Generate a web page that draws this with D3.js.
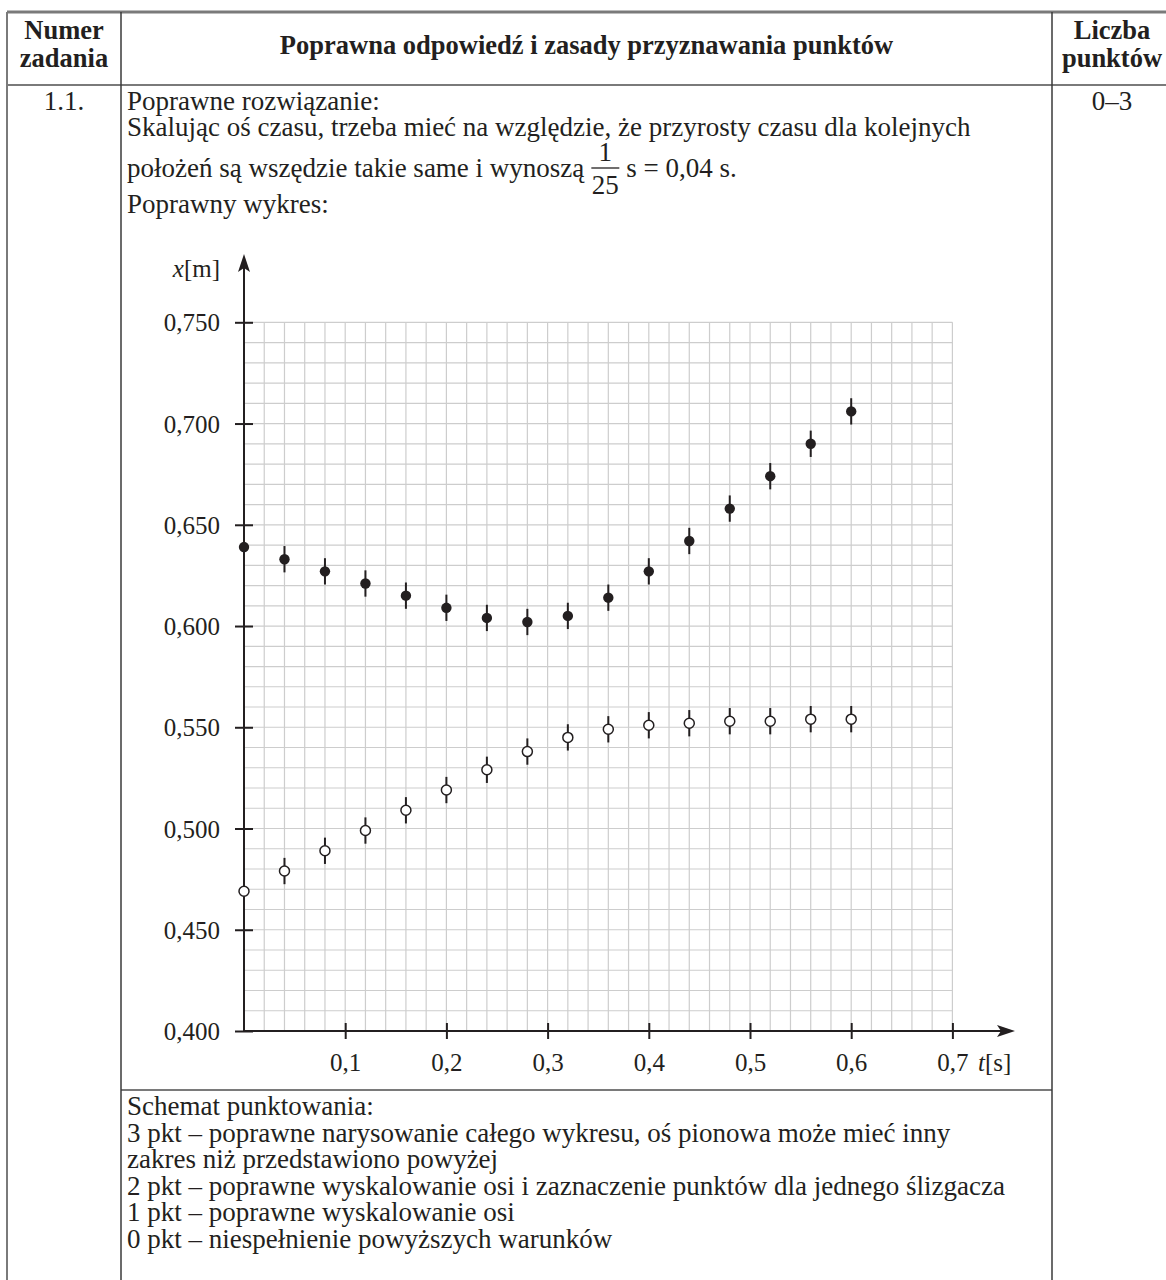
<!DOCTYPE html>
<html><head><meta charset="utf-8">
<script src="https://cdn.jsdelivr.net/npm/d3@7"></script>
<style>
body{margin:0;background:#fff}
svg{display:block}
text{font-family:"Liberation Serif","Times New Roman",serif;fill:#231f20}
</style>
</head><body>
<svg id="c" width="1166" height="1280"></svg>
<script>
// ---- data ----
const times = [0, 0.04, 0.08, 0.12, 0.16, 0.20, 0.24, 0.28, 0.32, 0.36, 0.40, 0.44, 0.48, 0.52, 0.56, 0.60];
const sliderFilled = [0.639, 0.633, 0.627, 0.621, 0.615, 0.609, 0.604, 0.602, 0.605, 0.614, 0.627, 0.642, 0.658, 0.674, 0.690, 0.706];
const sliderOpen = [0.469, 0.479, 0.489, 0.499, 0.509, 0.519, 0.529, 0.538, 0.545, 0.549, 0.551, 0.552, 0.553, 0.553, 0.554, 0.554];
const uncertainty = 0.0065;
const xTicks = [0.1, 0.2, 0.3, 0.4, 0.5, 0.6, 0.7];
const xTickLabels = ["0,1", "0,2", "0,3", "0,4", "0,5", "0,6", "0,7"];
const yTicks = [0.400, 0.450, 0.500, 0.550, 0.600, 0.650, 0.700, 0.750];
const yTickLabels = ["0,400", "0,450", "0,500", "0,550", "0,600", "0,650", "0,700", "0,750"];
const headerCol1 = ["Numer", "zadania"];
const headerCol2 = "Poprawna odpowiedź i zasady przyznawania punktów";
const headerCol3 = ["Liczba", "punktów"];
const taskNo = "1.1.";
const points = "0–3";
const introLines = ["Poprawne rozwiązanie:", "Skalując oś czasu, trzeba mieć na względzie, że przyrosty czasu dla kolejnych"];
const fracLineStart = "położeń są wszędzie takie same i wynoszą";
const fracNum = "1", fracDen = "25";
const fracLineEnd = "s = 0,04 s.";
const chartTitle = "Poprawny wykres:";
const schemeLines = [
  "Schemat punktowania:",
  "3 pkt – poprawne narysowanie całego wykresu, oś pionowa może mieć inny",
  "zakres niż przedstawiono powyżej",
  "2 pkt – poprawne wyskalowanie osi i zaznaczenie punktów dla jednego ślizgacza",
  "1 pkt – poprawne wyskalowanie osi",
  "0 pkt – niespełnienie powyższych warunków"
];

// ---- layout ----
const svg = d3.select("#c");
const INK = "#231f20";
const T = {left: 7, c1: 121, c2: 1052, right: 1172, top: 12, head: 85, sep: 1090, bottom: 1280};
const bodyFont = 27, headFont = 26.5, tickFont = 25;

// table lines
const tl = svg.append("g").attr("stroke", "#7a7a7a").attr("stroke-width", 2);
tl.append("line").attr("x1", T.left).attr("x2", 1166).attr("y1", T.top).attr("y2", T.top).attr("stroke-width", 3);
tl.append("line").attr("x1", T.left).attr("x2", 1166).attr("y1", T.head).attr("y2", T.head);
tl.append("line").attr("x1", T.c1).attr("x2", T.c2).attr("y1", T.sep).attr("y2", T.sep);
tl.append("line").attr("x1", T.left).attr("x2", T.left).attr("y1", T.top).attr("y2", T.bottom);
[T.c1, T.c2].forEach(x => tl.append("line").attr("x1", x).attr("x2", x).attr("y1", T.top).attr("y2", T.bottom).attr("stroke", "#3a3a3a").attr("stroke-width", 1.5));

// header
const hd = svg.append("g").attr("font-weight", "bold").attr("font-size", headFont).attr("text-anchor", "middle");
headerCol1.forEach((s, i) => hd.append("text").attr("x", (T.left + T.c1) / 2).attr("y", 39 + i * 28).text(s));
hd.append("text").attr("x", (T.c1 + T.c2) / 2).attr("y", 54).text(headerCol2);
headerCol3.forEach((s, i) => hd.append("text").attr("x", (T.c2 + T.right) / 2).attr("y", 39 + i * 28).text(s));

// first row cells
const bd = svg.append("g").attr("font-size", bodyFont);
bd.append("text").attr("x", (T.left + T.c1) / 2).attr("y", 110).attr("text-anchor", "middle").text(taskNo);
bd.append("text").attr("x", (T.c2 + T.right) / 2).attr("y", 110).attr("text-anchor", "middle").text(points);
const tx = 127;
introLines.forEach((s, i) => bd.append("text").attr("x", tx).attr("y", 110 + i * 26).text(s));
const fl = bd.append("text").attr("x", tx).attr("y", 177).text(fracLineStart);
const w0 = fl.node().getComputedTextLength();
const fx = tx + w0 + 7 + 14;
bd.append("text").attr("x", fx).attr("y", 161).attr("text-anchor", "middle").text(fracNum);
bd.append("line").attr("x1", fx - 14).attr("x2", fx + 14).attr("y1", 168).attr("y2", 168).attr("stroke", INK).attr("stroke-width", 1.3);
bd.append("text").attr("x", fx).attr("y", 194).attr("text-anchor", "middle").text(fracDen);
bd.append("text").attr("x", fx + 21).attr("y", 177).text(fracLineEnd);
bd.append("text").attr("x", tx).attr("y", 213).text(chartTitle);

// scheme
schemeLines.forEach((s, i) => bd.append("text").attr("x", tx).attr("y", 1115 + i * 26.6).text(s));

// ---- chart ----
const x = d3.scaleLinear().domain([0, 0.7]).range([244, 952.4]);
const y = d3.scaleLinear().domain([0.4, 0.75]).range([1031, 322.3]);

// grid
const grid = svg.append("g").attr("stroke", "#cdcdcd").attr("stroke-width", 1.2);
grid.selectAll(".gv").data(x.ticks(35).filter(d => d > 0)).join("line")
  .attr("x1", d => x(d)).attr("x2", d => x(d)).attr("y1", y(0.75)).attr("y2", y(0.4));
grid.selectAll(".gh").data(y.ticks(35).filter(d => d > 0.4)).join("line")
  .attr("x1", x(0)).attr("x2", x(0.7)).attr("y1", d => y(d)).attr("y2", d => y(d));

// axes
const ax = svg.append("g").attr("transform", `translate(0,${y(0.4)})`)
  .call(d3.axisBottom(x).tickValues(xTicks).tickFormat((d, i) => xTickLabels[i]).tickSizeOuter(0).tickSize(8).tickPadding(22));
ax.select(".domain").remove();
ax.selectAll(".tick line").attr("y1", -8).attr("y2", 8).attr("stroke", INK).attr("stroke-width", 2);
ax.selectAll(".tick text").attr("font-size", tickFont).attr("font-family", null).attr("fill", INK).attr("y", 40).attr("dy", null);

const ay = svg.append("g").attr("transform", `translate(${x(0)},0)`)
  .call(d3.axisLeft(y).tickValues(yTicks).tickFormat((d, i) => yTickLabels[i]).tickSizeOuter(0).tickSize(9).tickPadding(15));
ay.select(".domain").remove();
ay.selectAll(".tick line").attr("x1", -9).attr("x2", 9).attr("stroke", INK).attr("stroke-width", 2);
ay.selectAll(".tick text").attr("font-size", tickFont).attr("font-family", null).attr("fill", INK).attr("x", -24).attr("dy", "0.34em");

// axis lines with arrows
svg.append("line").attr("x1", x(0)).attr("x2", x(0)).attr("y1", y(0.4)).attr("y2", 262).attr("stroke", INK).attr("stroke-width", 2);
svg.append("path").attr("d", `M${x(0)},254 L${x(0) + 6},272 L${x(0)},268 L${x(0) - 6},272 Z`).attr("fill", INK);
svg.append("line").attr("x1", x(0)).attr("x2", 1008).attr("y1", y(0.4)).attr("y2", y(0.4)).attr("stroke", INK).attr("stroke-width", 2);
svg.append("path").attr("d", `M1015,${y(0.4)} L997,${y(0.4) - 6} L1001,${y(0.4)} L997,${y(0.4) + 6} Z`).attr("fill", INK);

// axis titles
const yt = svg.append("text").attr("x", 220).attr("y", 277).attr("font-size", tickFont).attr("text-anchor", "end");
yt.append("tspan").attr("font-style", "italic").text("x");
yt.append("tspan").text("[m]");
const xt = svg.append("text").attr("x", 978).attr("y", y(0.4) + 40).attr("font-size", tickFont);
xt.append("tspan").attr("font-style", "italic").text("t");
xt.append("tspan").text("[s]");

// data points
function drawSeries(vals, filled) {
  const g = svg.append("g");
  const data = times.map((t, i) => ({t, v: vals[i]}));
  g.selectAll(".eb").data(data).join("line")
    .attr("x1", d => x(d.t)).attr("x2", d => x(d.t))
    .attr("y1", d => y(d.v - uncertainty)).attr("y2", d => y(d.v + uncertainty))
    .attr("stroke", INK).attr("stroke-width", 2);
  g.selectAll(".pt").data(data).join("circle")
    .attr("cx", d => x(d.t)).attr("cy", d => y(d.v))
    .attr("r", filled ? 5.2 : 5)
    .attr("fill", filled ? INK : "#fff")
    .attr("stroke", INK).attr("stroke-width", filled ? 0 : 1.5);
}
drawSeries(sliderFilled, true);
drawSeries(sliderOpen, false);
</script>
</body></html>
